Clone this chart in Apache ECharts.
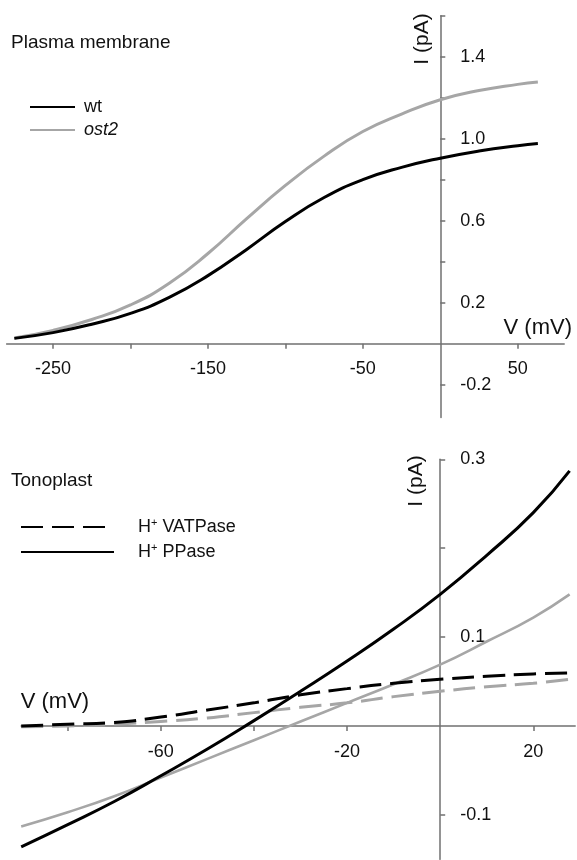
<!DOCTYPE html>
<html>
<head>
<meta charset="utf-8">
<title>I-V curves</title>
<script src="https://cdn.jsdelivr.net/npm/echarts@6/dist/echarts.min.js"></script>
<style>
html, body { margin: 0; padding: 0; background: #fff; }
#chart { width: 577px; height: 860px; }
</style>
</head>
<body>
<div id="chart"></div>
<script>
// plasma membrane panel (top)
var pmVolts = [-275, -250, -225, -200, -175, -150, -125, -100, -75, -50, -25, 0, 25, 50, 63];
var pmWt    = [0.026, 0.054, 0.095, 0.148, 0.226, 0.332, 0.460, 0.596, 0.713, 0.800, 0.860, 0.905, 0.940, 0.966, 0.976];
var pmOst2  = [0.028, 0.065, 0.118, 0.189, 0.295, 0.440, 0.610, 0.772, 0.915, 1.035, 1.120, 1.190, 1.235, 1.265, 1.277];
var pmXTicks  = [-250, -200, -150, -100, -50, 50];
var pmXLabels = [-250, -150, -50, 50];
var pmYTicks  = [-0.2, 0.2, 0.4, 0.6, 0.8, 1.0, 1.2, 1.4, 1.6];
var pmYLabels = [-0.2, 0.2, 0.6, 1.0, 1.4];

// tonoplast panel (bottom)
var tpVolts   = [-90, -80, -70, -60, -50, -40, -30, -20, -10, 0, 10, 20, 27.8];
var vatWt     = [0.000, 0.002, 0.004, 0.010, 0.018, 0.026, 0.035, 0.042, 0.048, 0.0525, 0.056, 0.0585, 0.0595];
var vatOst2   = [-0.001, 0.000, 0.002, 0.005, 0.009, 0.015, 0.021, 0.026, 0.033, 0.039, 0.044, 0.048, 0.0525];
var ppWt      = [-0.136, -0.111, -0.085, -0.056, -0.026, 0.006, 0.039, 0.073, 0.109, 0.148, 0.192, 0.240, 0.287];
var ppOst2    = [-0.113, -0.097, -0.079, -0.058, -0.037, -0.016, 0.005, 0.026, 0.047, 0.069, 0.095, 0.122, 0.148];
var tpXTicks  = [-80, -60, -40, -20, 20];
var tpXLabels = [-60, -20, 20];
var tpYTicks  = [-0.1, 0.1, 0.2, 0.3];
var tpYLabels = [-0.1, 0.1, 0.3];

var FONT = "'Liberation Sans', Arial, sans-serif";
var AXIS = '#707070';
var GREY = '#a6a6a6';

function pairs(xs, ys) {
    return xs.map(function (x, i) { return [x, ys[i]]; });
}

// axes are shifted onto the zero lines with offset so labels follow them
function xAxisOpt(idx, min, max, ticks, labels, offset, margin) {
    return {
        type: 'value', gridIndex: idx, min: min, max: max, offset: offset,
        axisLine: { onZero: false, lineStyle: { color: AXIS, width: 1.5 } },
        axisTick: { length: 5, customValues: ticks, lineStyle: { color: AXIS, width: 1.5 } },
        axisLabel: { customValues: labels, margin: margin, fontSize: 18, color: '#111', fontFamily: FONT },
        splitLine: { show: false }
    };
}

function yAxisOpt(idx, min, max, ticks, labels, offset) {
    return {
        type: 'value', gridIndex: idx, min: min, max: max, offset: offset,
        axisLine: { show: true, onZero: false, lineStyle: { color: AXIS, width: 1.5 } },
        axisTick: { show: true, inside: true, length: 5, customValues: ticks, lineStyle: { color: AXIS, width: 1.5 } },
        axisLabel: {
            inside: true, customValues: labels, margin: 20, fontSize: 18, color: '#111', fontFamily: FONT,
            formatter: function (v) { return v.toFixed(1); }
        },
        splitLine: { show: false }
    };
}

function lineSeries(name, xi, xs, ys, color, width, dashed) {
    return {
        name: name, type: 'line', xAxisIndex: xi, yAxisIndex: xi,
        data: pairs(xs, ys),
        symbol: 'none', smooth: true,
        lineStyle: { color: color, width: width, type: dashed ? [22, 9] : 'solid' },
        itemStyle: { color: color }
    };
}

var myChart = echarts.init(document.getElementById('chart'));

var option = {
    backgroundColor: '#fff',
    animation: false,
    title: [
        { text: 'Plasma membrane', left: 11, top: 33, padding: 0,
          textStyle: { fontSize: 19, fontWeight: 'normal', color: '#111', fontFamily: FONT } },
        { text: 'Tonoplast', left: 11, top: 471, padding: 0,
          textStyle: { fontSize: 19, fontWeight: 'normal', color: '#111', fontFamily: FONT } }
    ],
    legend: [
        {
            data: ['wt', 'ost2'], orient: 'vertical', left: 29, top: 98, padding: 0,
            itemWidth: 45, itemHeight: 14, itemGap: 5, selectedMode: false,
            itemStyle: { opacity: 0 },
            formatter: function (n) { return n === 'ost2' ? '{i|ost2}' : '{t|' + n + '}'; },
            textStyle: {
                fontSize: 18, color: '#111', fontFamily: FONT, padding: [0, 0, 0, 4],
                rich: {
                    t: { fontSize: 18, lineHeight: 20, color: '#111', fontFamily: FONT },
                    i: { fontSize: 18, lineHeight: 20, fontStyle: 'italic', color: '#111', fontFamily: FONT }
                }
            }
        },
        {
            data: ['H+ VATPase', 'H+ PPase'], orient: 'vertical', left: 20, top: 517, padding: 0,
            itemWidth: 93, itemHeight: 14, itemGap: 6, selectedMode: false,
            itemStyle: { opacity: 0 },
            formatter: function (n) { return '{t|H}{s|+}{t|' + n.slice(2) + '}'; },
            textStyle: {
                fontSize: 18, color: '#111', fontFamily: FONT, padding: [0, 0, 0, 19],
                rich: {
                    t: { fontSize: 18, lineHeight: 20, color: '#111', fontFamily: FONT },
                    s: { fontSize: 11, lineHeight: 12, verticalAlign: 'top', color: '#111', fontFamily: FONT }
                }
            }
        }
    ],
    grid: [
        { left: 6.6, top: 15.7, width: 557.6, height: 401.8, containLabel: false, outerBoundsMode: 'none' },
        { left: 21.2, top: 459.3, width: 554, height: 400, containLabel: false, outerBoundsMode: 'none' }
    ],
    xAxis: [
        xAxisOpt(0, -280, 80, pmXTicks, pmXLabels, -73.8, 16),
        xAxisOpt(1, -90, 29, tpXTicks, tpXLabels, -133.3, 17)
    ],
    yAxis: [
        yAxisOpt(0, -0.36, 1.6, pmYTicks, pmYLabels, -433.7),
        yAxisOpt(1, -0.15, 0.3, tpYTicks, tpYLabels, -419)
    ],
    graphic: [
        { type: 'text', x: 422, y: 39, rotation: Math.PI / 2,
          style: { text: 'I (pA)', font: '21px ' + FONT, fill: '#111', align: 'center', verticalAlign: 'middle' } },
        { type: 'text', x: 572, y: 328,
          style: { text: 'V (mV)', font: '22px ' + FONT, fill: '#111', align: 'right', verticalAlign: 'middle' } },
        { type: 'text', x: 416.5, y: 481, rotation: Math.PI / 2,
          style: { text: 'I (pA)', font: '21px ' + FONT, fill: '#111', align: 'center', verticalAlign: 'middle' } },
        { type: 'text', x: 20.7, y: 702,
          style: { text: 'V (mV)', font: '22px ' + FONT, fill: '#111', align: 'left', verticalAlign: 'middle' } }
    ],
    series: [
        lineSeries('ost2', 0, pmVolts, pmOst2, GREY, 3, false),
        lineSeries('wt', 0, pmVolts, pmWt, '#000', 3, false),
        lineSeries('H+ VATPase ost2', 1, tpVolts, vatOst2, GREY, 3, true),
        lineSeries('H+ PPase ost2', 1, tpVolts, ppOst2, GREY, 2.6, false),
        lineSeries('H+ VATPase', 1, tpVolts, vatWt, '#000', 3, true),
        lineSeries('H+ PPase', 1, tpVolts, ppWt, '#000', 3, false)
    ]
};
myChart.setOption(option, true);
</script>
</body>
</html>
